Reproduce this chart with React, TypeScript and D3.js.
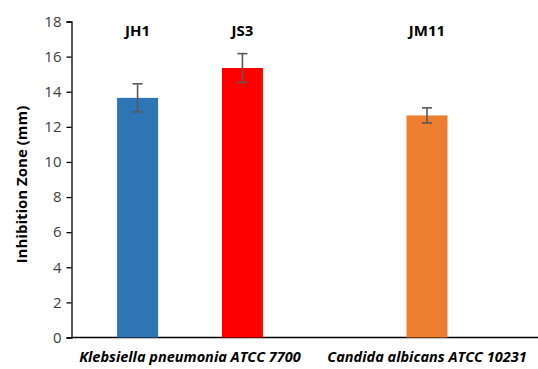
import React, { useEffect, useRef } from "react";
import * as d3 from "d3";

// chart data
const categories = ["Klebsiella pneumonia ATCC 7700", "Candida albicans ATCC 10231"];
const seriesNames = ["JH1", "JS3", "JM11"];
const seriesCategory = ["Klebsiella pneumonia ATCC 7700", "Klebsiella pneumonia ATCC 7700", "Candida albicans ATCC 10231"];
const values = [13.65, 15.35, 12.65];
const errors = [0.8, 0.82, 0.43];
const colors = ["#2E75B6", "#FF0000", "#ED7D31"];
const yTicks = [0, 2, 4, 6, 8, 10, 12, 14, 16, 18];

const W = 538;
const H = 369;

const App = () => {
  const ref = useRef<SVGSVGElement>(null);

  useEffect(() => {
    const svg = d3.select(ref.current);
    svg.selectAll("*").remove();

    const font = "Open Sans, Liberation Sans, sans-serif";
    const left = 71.5;
    const top = 21.5;
    const bottom = 337.5;

    // scales
    const y = d3.scaleLinear().domain([0, 18]).range([bottom, top]);
    const x = d3.scaleBand().domain(categories).range([left, 545.5]).padding(0);
    const barW = x.bandwidth() * 0.173;

    // y axis
    const yAxis = svg.append("g")
      .attr("transform", `translate(${left},0)`)
      .call(d3.axisLeft(y).tickValues(yTicks).tickSize(5).tickPadding(5));
    yAxis.select(".domain").attr("stroke", "#000").attr("stroke-width", 1.3);
    yAxis.selectAll(".tick line").attr("stroke", "#000").attr("stroke-width", 1.3);
    yAxis.selectAll(".tick text")
      .attr("fill", "#404040")
      .style("font-family", font)
      .style("font-size", "15px");

    // x axis line
    svg.append("line")
      .attr("x1", left).attr("x2", W)
      .attr("y1", bottom).attr("y2", bottom)
      .attr("stroke", "#000").attr("stroke-width", 1.3);

    // y title
    svg.append("text")
      .attr("transform", `translate(27,${(top + bottom) / 2 + 5}) rotate(-90)`)
      .attr("text-anchor", "middle")
      .style("font-family", font)
      .style("font-size", "15px")
      .style("font-weight", "bold")
      .attr("fill", "#000")
      .text("Inhibition Zone (mm)");

    // x labels
    svg.selectAll(".xlab")
      .data(categories)
      .enter().append("text")
      .attr("class", "xlab")
      .attr("x", (d) => (x(d) as number) + x.bandwidth() / 2)
      .attr("y", 362)
      .attr("text-anchor", "middle")
      .style("font-family", font)
      .style("font-size", "14.5px")
      .style("font-weight", "bold")
      .style("font-style", "italic")
      .attr("fill", "#000")
      .text((d) => d);

    // position of each bar inside its category
    const cx = (i: number) => {
      const cat = seriesCategory[i];
      const inCat = seriesNames.filter((_, j) => seriesCategory[j] === cat);
      const inner = d3.scalePoint().domain(inCat).range([0, x.bandwidth()]).padding(0.63);
      return (x(cat) as number) + (inner(seriesNames[i]) as number);
    };

    const idx = d3.range(seriesNames.length);

    // bars
    svg.selectAll(".bar")
      .data(idx)
      .enter().append("rect")
      .attr("class", "bar")
      .attr("x", (i) => cx(i) - barW / 2)
      .attr("y", (i) => y(values[i]))
      .attr("width", barW)
      .attr("height", (i) => bottom - y(values[i]))
      .attr("fill", (i) => colors[i]);

    // error bars
    const eb = svg.selectAll(".err").data(idx).enter().append("g").attr("class", "err")
      .attr("stroke", "#595959").attr("stroke-width", 1.6);
    eb.append("line")
      .attr("x1", (i) => cx(i)).attr("x2", (i) => cx(i))
      .attr("y1", (i) => y(values[i] + errors[i]))
      .attr("y2", (i) => y(values[i] - errors[i]));
    eb.append("line")
      .attr("x1", (i) => cx(i) - 5).attr("x2", (i) => cx(i) + 5)
      .attr("y1", (i) => y(values[i] + errors[i]))
      .attr("y2", (i) => y(values[i] + errors[i]));
    eb.append("line")
      .attr("x1", (i) => cx(i) - 5).attr("x2", (i) => cx(i) + 5)
      .attr("y1", (i) => y(values[i] - errors[i]))
      .attr("y2", (i) => y(values[i] - errors[i]));

    // series labels
    svg.selectAll(".slab")
      .data(idx)
      .enter().append("text")
      .attr("class", "slab")
      .attr("x", (i) => cx(i))
      .attr("y", 36)
      .attr("text-anchor", "middle")
      .style("font-family", font)
      .style("font-size", "15px")
      .style("font-weight", "bold")
      .attr("fill", "#000")
      .text((i) => seriesNames[i]);
  }, []);

  return (
    <svg
      ref={ref}
      width={W}
      height={H}
      style={{ position: "absolute", left: 0, top: 0, background: "#fff" }}
    />
  );
};

export default App;
